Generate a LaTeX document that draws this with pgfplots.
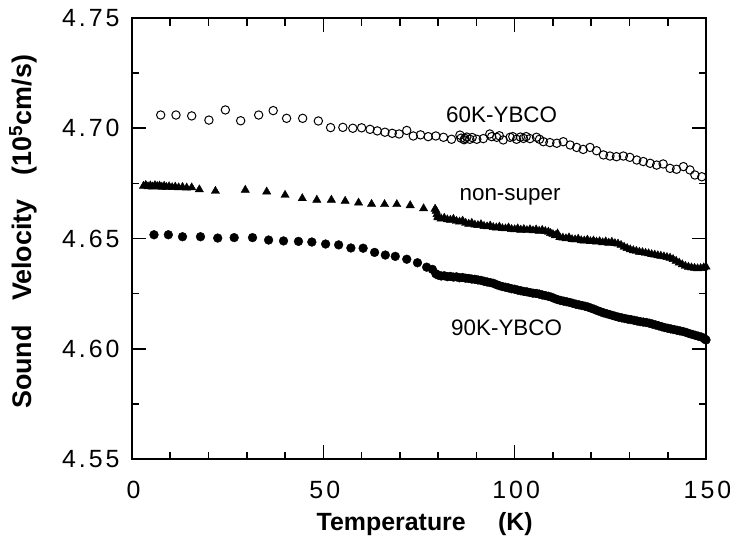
\documentclass[border=0pt]{standalone}
\usepackage{pgfplots}
\pgfplotsset{compat=1.18}
\usepackage{fontspec}
\setmainfont{Liberation Sans}
\newfontfamily\tickfont[LetterSpace=12]{Liberation Sans}
\begin{document}
\fontsize{25}{30}\selectfont
\begin{tikzpicture}
\useasboundingbox (-132bp,-78bp) rectangle (598bp,459bp);
\begin{axis}[
  at={(0,0)}, anchor=south west,
  scale only axis, width=574bp, height=441bp,
  xmin=0, xmax=150, ymin=4.55, ymax=4.75,
  xtick={0,50,100,150}, minor x tick num=4,
  ytick={4.55,4.60,4.65,4.70,4.75}, minor y tick num=1,
  xtick pos=both, ytick pos=both,
  tick align=inside,
  major tick length=14bp, minor tick length=7.5bp,
  axis line style={line width=2bp},
  major tick style={line width=1.6bp, black},
  minor tick style={line width=1.6bp, black},
  /pgf/number format/assume math mode=true,
  scaled y ticks=false,
  tick label style={font=\tickfont},
  yticklabel style={/pgf/number format/fixed, /pgf/number format/fixed zerofill, /pgf/number format/precision=2, xshift=-4bp},
  xticklabel style={yshift=-14bp, xshift=1.5bp},
  xlabel={\bfseries Temperature\hspace{1.3em}(K)},
  ylabel={\fontsize{27}{30}\selectfont\bfseries Sound\hspace{0.9em}Velocity\hspace{0.9em}(10\textsuperscript{5}cm/s)},
  xlabel style={at={(axis description cs:0.51,-0.147)}, anchor=center},
  ylabel style={at={(axis description cs:-0.19,0.515)}, anchor=center},
  clip=false,
]
% 60K-YBCO (open circles)
\addplot[only marks, mark=o, mark size=4.2bp, mark options={line width=1bp, fill=white, draw=black}] coordinates {
(7.5,4.7060) (11.5,4.7060) (15.6,4.7056) (20.1,4.7037) (24.4,4.7083) (28.4,4.7034)
(33.1,4.7060) (36.9,4.7080) (40.4,4.7045) (44.6,4.7045) (48.7,4.7033) (51.9,4.7003)
(55.1,4.7004) (57.7,4.7000) (60.0,4.7002) (62.2,4.6995) (64.1,4.6988) (66.1,4.6982)
(68.0,4.6977) (69.8,4.6974) (71.8,4.6990) (73.5,4.6965) (75.4,4.6970) (77.4,4.6962)
(79.4,4.6965) (81.4,4.6959) (83.5,4.6950) (85.7,4.6969) (86.0,4.6955) (86.8,4.6948)
(87.0,4.6954) (87.5,4.6960) (88.3,4.6950) (88.9,4.6958) (90.1,4.6950) (91.8,4.6953)
(93.5,4.6974) (94.0,4.6962) (95.3,4.6959) (96.0,4.6966) (97.0,4.6947) (98.8,4.6959)
(99.5,4.6962) (100.5,4.6950) (101.5,4.6960) (102.3,4.6954) (103.0,4.6962) (104.0,4.6953)
(105.7,4.6959) (106.5,4.6950) (107.5,4.6939) (109.2,4.6935) (111.0,4.6932) (112.7,4.6939)
(114.5,4.6924) (116.2,4.6913) (117.9,4.6904) (119.7,4.6913) (121.4,4.6898) (123.2,4.6879)
(124.9,4.6874) (126.6,4.6871) (128.4,4.6874) (130.1,4.6868) (131.9,4.6856) (133.6,4.6849)
(135.4,4.6841) (137.1,4.6833) (138.8,4.6838) (140.6,4.6818) (142.3,4.6814) (144.1,4.6826)
(145.8,4.6811) (147.1,4.6788) (148.9,4.6780)
};
% non-super (filled triangles)
\addplot[only marks, mark=triangle*, mark size=4.8bp, black] coordinates {
(3.0,4.6738) (3.6,4.6742) (4.2,4.6736) (4.8,4.6740) (5.4,4.6735) (6.0,4.6741)
(6.6,4.6737) (7.2,4.6739) (7.8,4.6734) (8.4,4.6738) (9.0,4.6733) (9.7,4.6736)
(10.5,4.6732) (11.3,4.6734) (12.2,4.6731) (13.2,4.6733) (14.3,4.6730) (15.6,4.6731)
(17.6,4.6722) (21.8,4.6715) (29.6,4.6720) (35.2,4.6712) (40.0,4.6697) (44.5,4.6682)
(48.3,4.6675) (52.1,4.6675) (55.7,4.6670) (59.2,4.6662) (62.6,4.6656) (66.0,4.6655)
(69.2,4.6655) (72.7,4.6650) (76.2,4.6636) (79.2,4.6634) (79.5,4.6625) (79.7,4.6610)
(79.9,4.6598)
(80.0,4.6595) (80.8,4.6590) (81.6,4.6593) (82.4,4.6586) (83.2,4.6584) (84.0,4.6588)
(84.8,4.6579) (85.6,4.6576) (86.4,4.6580) (87.2,4.6570) (88.0,4.6566) (88.8,4.6570)
(89.6,4.6562) (90.4,4.6560) (91.2,4.6564) (92.0,4.6556) (92.8,4.6554) (93.6,4.6558)
(94.4,4.6551) (95.2,4.6549) (96.0,4.6553) (96.8,4.6546) (97.6,4.6545) (98.4,4.6549)
(99.2,4.6542) (100.0,4.6541) (100.8,4.6545) (101.6,4.6539) (102.4,4.6542) (103.2,4.6537)
(104.0,4.6541) (104.8,4.6536) (105.6,4.6540) (106.4,4.6534) (107.2,4.6538) (108.0,4.6533)
(108.8,4.6530) (109.4,4.6524) (110.0,4.6519) (110.6,4.6514) (111.2,4.6522) (111.8,4.6505)
(112.6,4.6503) (113.4,4.6500) (114.2,4.6504) (115.0,4.6496) (115.8,4.6495) (116.6,4.6498)
(117.4,4.6491) (118.2,4.6490) (119.0,4.6494) (119.8,4.6487) (120.6,4.6490) (121.4,4.6485)
(122.2,4.6487) (123.0,4.6482) (123.8,4.6486) (124.6,4.6480) (125.4,4.6484) (126.2,4.6478)
(127.0,4.6476) (127.8,4.6470) (128.6,4.6462) (129.4,4.6456) (130.2,4.6450) (131.0,4.6446)
(131.8,4.6443) (132.6,4.6439) (133.4,4.6437) (134.2,4.6434) (135.0,4.6432) (135.8,4.6428)
(136.6,4.6426) (137.4,4.6423) (138.2,4.6421) (139.0,4.6418) (139.8,4.6415) (140.6,4.6412)
(141.4,4.6406) (142.2,4.6398) (143.0,4.6390) (143.8,4.6382) (144.6,4.6375) (145.4,4.6371)
(146.2,4.6368) (147.0,4.6366) (147.8,4.6364) (148.6,4.6365) (149.4,4.6368) (150.0,4.6372)
};
% 90K-YBCO (filled circles)
\addplot[only marks, mark=*, mark size=4.4bp, black] coordinates {
(5.75,4.6517) (9.5,4.6517) (13.2,4.6508) (17.9,4.6508) (22.4,4.6502) (26.7,4.6504)
(31.5,4.6504) (35.7,4.6493) (39.6,4.6489) (43.5,4.6487) (47.0,4.6484) (50.6,4.6475)
(54.0,4.6471) (57.2,4.6457) (60.4,4.6456) (63.4,4.6437) (66.2,4.6425) (68.8,4.6419)
(71.8,4.6406) (74.6,4.6390) (77.0,4.6370) (78.5,4.6360) (79.4,4.6340)
(80.0,4.6334) (80.8,4.6330) (81.6,4.6331) (82.4,4.6327) (83.2,4.6328) (84.0,4.6325)
(84.8,4.6326) (85.6,4.6322) (86.4,4.6323) (87.2,4.6320) (88.0,4.6319) (88.8,4.6316)
(89.6,4.6315) (90.4,4.6312) (91.2,4.6310) (92.0,4.6306) (92.8,4.6303) (93.6,4.6300)
(94.4,4.6297) (95.2,4.6291) (96.0,4.6286) (96.8,4.6282) (97.6,4.6279) (98.4,4.6276)
(99.2,4.6272) (100.0,4.6270) (100.8,4.6266) (101.6,4.6263) (102.4,4.6260) (103.2,4.6258)
(104.0,4.6255) (104.8,4.6252) (105.6,4.6251) (106.4,4.6248) (107.2,4.6244) (108.0,4.6241)
(108.8,4.6238) (109.6,4.6234) (110.4,4.6228) (111.2,4.6223) (112.0,4.6219) (112.8,4.6216)
(113.6,4.6213) (114.4,4.6210) (115.2,4.6206) (116.0,4.6202) (116.8,4.6199) (117.6,4.6196)
(118.4,4.6193) (119.2,4.6189) (120.0,4.6184) (120.8,4.6179) (121.6,4.6173) (122.4,4.6168)
(123.2,4.6163) (124.0,4.6159) (124.8,4.6155) (125.6,4.6151) (126.4,4.6147) (127.2,4.6143)
(128.0,4.6140) (128.8,4.6137) (129.6,4.6134) (130.4,4.6132) (131.2,4.6129) (132.0,4.6126)
(132.8,4.6123) (133.6,4.6121) (134.4,4.6119) (135.2,4.6116) (136.0,4.6112) (136.8,4.6108)
(137.6,4.6104) (138.4,4.6100) (139.2,4.6096) (140.0,4.6093) (140.8,4.6090) (141.6,4.6087)
(142.4,4.6084) (143.2,4.6081) (144.0,4.6078) (144.8,4.6074) (145.6,4.6069) (146.4,4.6065)
(147.2,4.6061) (148.0,4.6057) (148.8,4.6053) (149.6,4.6045) (150.0,4.6040)
};
\node[font=\fontsize{22.5}{27}\selectfont] at (axis cs:96.6,4.706) {60K-YBCO};
\node[font=\fontsize{22.5}{27}\selectfont] at (axis cs:98.8,4.669) {non-super};
\node[font=\fontsize{22.5}{27}\selectfont] at (axis cs:97.9,4.6093) {90K-YBCO};
\end{axis}
\end{tikzpicture}
\end{document}
